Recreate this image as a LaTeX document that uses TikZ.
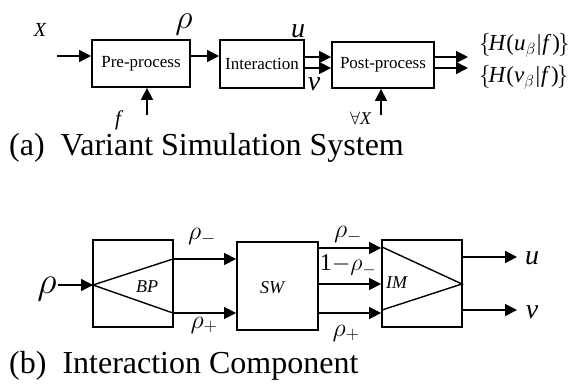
\RequirePackage{fix-cm}
\documentclass[tikz,border=0pt]{standalone}
\usepackage{fontspec}
\setmainfont{Liberation Serif}
\usetikzlibrary{arrows.meta}
\newcommand{\fs}[1]{\fontsize{#1}{#1}\selectfont}
\begin{document}
\begin{tikzpicture}[x=1pt,y=-1pt,
  blk/.style={draw, line width=1.8pt, inner sep=0pt, font=\fs{17}},
  flow/.style={line width=1.4pt, -{Triangle[length=12pt,width=12pt]}},
  edge/.style={line width=1.4pt},
  lab/.style={inner sep=0pt},
  captxt/.style={inner sep=0pt, anchor=base west, font=\fs{32}}]
\useasboundingbox (0,0) rectangle (568,388);

% ---------- (a) Variant simulation system ----------
\node[blk, minimum width=98pt, minimum height=47pt] (pre) at (141,63.5) {Pre-process};
\node[blk, minimum width=84pt, minimum height=48pt] (int) at (262,64) {Interaction};
\node[blk, minimum width=102pt, minimum height=46pt] (post) at (383,65) {Post-process};

\coordinate (xin) at (57,56);
\coordinate (fin) at (147,115);
\coordinate (allin) at (381,115);
\coordinate (hu) at (468,57);
\coordinate (hv) at (468,68);
\coordinate (r1) at (0,56);
\coordinate (r2) at (0,57);
\coordinate (r3) at (0,68);

\draw[flow] (xin) -- (pre.west |- xin);
\draw[flow] (pre.east |- r1) -- (int.west |- r1);
\draw[flow] (fin) -- (fin |- pre.south);
\draw[flow] (int.east |- r2) -- (post.west |- r2);
\draw[flow] (int.east |- r3) -- (post.west |- r3);
\draw[flow] (allin) -- (allin |- post.south);
\draw[flow] (post.east |- hu) -- (hu);
\draw[flow] (post.east |- hv) -- (hv);

\node[lab, font=\fs{20}\itshape] (lx) at (40,30) {X};
\node[lab, font=\fs{34}] (lrho) at (184,24) {$\rho$};
\node[lab, font=\fs{21}\itshape] (lf) at (118,120) {f};
\node[lab, font=\fs{28}\itshape] (lu) at (298,31) {u};
\node[lab, font=\fs{28}\itshape] (lv) at (314,84) {v};
\node[lab, font=\fs{18}] (lall) at (361,118) {$\forall$\textit{X}};
\node[lab, anchor=west, font=\fs{23}] (lhu) at (479,46)
  {\smash{$\big\{$}\kern-2pt\textit{H}(\textit{u}$_{\beta}$\kern1pt|\kern1pt\textit{f}\kern1pt)\kern-2pt\smash{$\big\}$}};
\node[lab, anchor=west, font=\fs{23}] (lhv) at (479,78)
  {\smash{$\big\{$}\kern-2pt\textit{H}(\textit{v}$_{\beta}$\kern1pt|\kern1pt\textit{f}\kern1pt)\kern-2pt\smash{$\big\}$}};

\node[captxt] (capa) at (9,155) {(a)~~Variant Simulation System};

% ---------- (b) Interaction component ----------
\node[blk, minimum width=80pt, minimum height=87pt] (bp) at (133,283.5) {};
\node[blk, minimum width=81pt, minimum height=88pt] (sw) at (277.5,286) {};
\node[blk, minimum width=80pt, minimum height=87pt] (im) at (422,283.5) {};

% splitter and merger wedges
\coordinate (bpa) at (93,285);
\coordinate (bpt) at (173,259);
\coordinate (bpb) at (173,313);
\draw[edge] (bpt) -- (bpa) -- (bpb);
\coordinate (ima) at (462,284);
\coordinate (imt) at (382,247);
\coordinate (imb) at (382,310);
\draw[edge] (imt) -- (ima) -- (imb);

\node[lab, font=\fs{18}\itshape] (tbp) at (147,287) {BP};
\node[lab, font=\fs{18}\itshape] (tsw) at (272,288) {SW};
\node[lab, font=\fs{18}\itshape, anchor=west] (tim) at (386,283) {IM};

\coordinate (rin) at (58,285);
\coordinate (s1) at (0,248);
\coordinate (s2) at (0,284);
\coordinate (s3) at (0,313);
\coordinate (ou) at (517,257);
\coordinate (ov) at (517,310);

\draw[flow] (rin) -- (bpa);
\draw[flow] (bpt) -- (sw.west |- bpt);
\draw[flow] (bpb) -- (sw.west |- bpb);
\draw[flow] (sw.east |- s1) -- (im.west |- s1);
\draw[flow] (sw.east |- s2) -- (im.west |- s2);
\draw[flow] (sw.east |- s3) -- (im.west |- s3);
\draw[flow] (im.east |- ou) -- (ou);
\draw[flow] (im.east |- ov) -- (ov);

\node[lab, font=\fs{38}] (brho) at (47,289) {$\rho$};
\node[lab, font=\fs{26}] (bm1) at (202,237) {$\rho_{-}$};
\node[lab, font=\fs{26}] (bp1) at (204,325) {$\rho_{+}$};
\node[lab, font=\fs{26}] (bm2) at (348,235) {$\rho_{-}$};
\node[lab, font=\fs{24}] (bm3) at (348,265) {1$-\rho_{-}$};
\node[lab, font=\fs{26}] (bp2) at (346,333) {$\rho_{+}$};
\node[lab, font=\fs{28}\itshape] (bu) at (532,258) {u};
\node[lab, font=\fs{28}\itshape] (bv) at (532,312) {v};

\node[captxt] (capb) at (9,373) {(b)~~Interaction Component};
\end{tikzpicture}
\end{document}
